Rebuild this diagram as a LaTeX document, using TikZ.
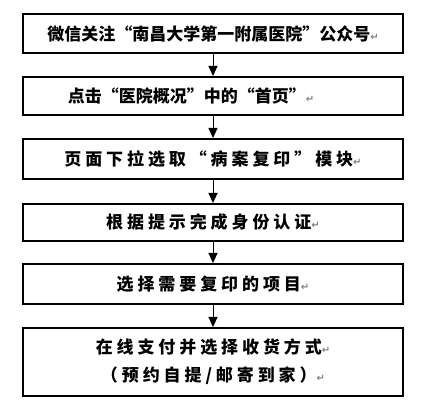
\documentclass[tikz,border=0pt]{standalone}
\usepackage{fontspec}
\usetikzlibrary{arrows.meta}
\newfontfamily\cjkA{Noto Sans CJK SC}[LetterSpace=0]
\newfontfamily\cjkB{Noto Sans CJK SC}[LetterSpace=23]
\newfontfamily\symf{DejaVu Sans}
\newcommand{\retmark}{{\symf\fontsize{10}{10}\selectfont\textcolor{gray}{↵}}}
\begin{document}
\begin{tikzpicture}[x=1pt,y=-1pt,
  stepbox/.style={draw=black,line width=2pt,minimum width=380pt,inner sep=0pt,align=center,font=\fontsize{17}{28}\selectfont\bfseries},
  flowarrow/.style={line width=1pt,-{Triangle[length=10pt,width=9pt]}}]
\useasboundingbox (0,0) rectangle (421,411);
\node[stepbox,minimum height=39pt] (b1) at (213,33.5) {\cjkA 微信关注“南昌大学第一附属医院”公众号\retmark};
\node[stepbox,minimum height=38pt] (b2) at (213,96) {\cjkA 点击“医院概况”中的“首页”\retmark\hspace*{44pt}};
\node[stepbox,minimum height=40pt] (b3) at (213,159) {\cjkB 页面下拉选取“病案复印”模块\retmark};
\node[stepbox,minimum height=37pt] (b4) at (213,222.5) {\cjkB 根据提示完成身份认证\retmark};
\node[stepbox,minimum height=40pt] (b5) at (213,284) {\cjkB 选择需要复印的项目\retmark};
\node[stepbox,minimum height=68pt] (b6) at (213,362) {\cjkB 在线支付并选择收货方式\retmark\\ \cjkB （预约自提/邮寄到家）\retmark};
\draw[flowarrow] (b1) -- (b2);
\draw[flowarrow] (b2) -- (b3);
\draw[flowarrow] (b3) -- (b4);
\draw[flowarrow] (b4) -- (b5);
\draw[flowarrow] (b5) -- (b6);
\end{tikzpicture}
\end{document}
